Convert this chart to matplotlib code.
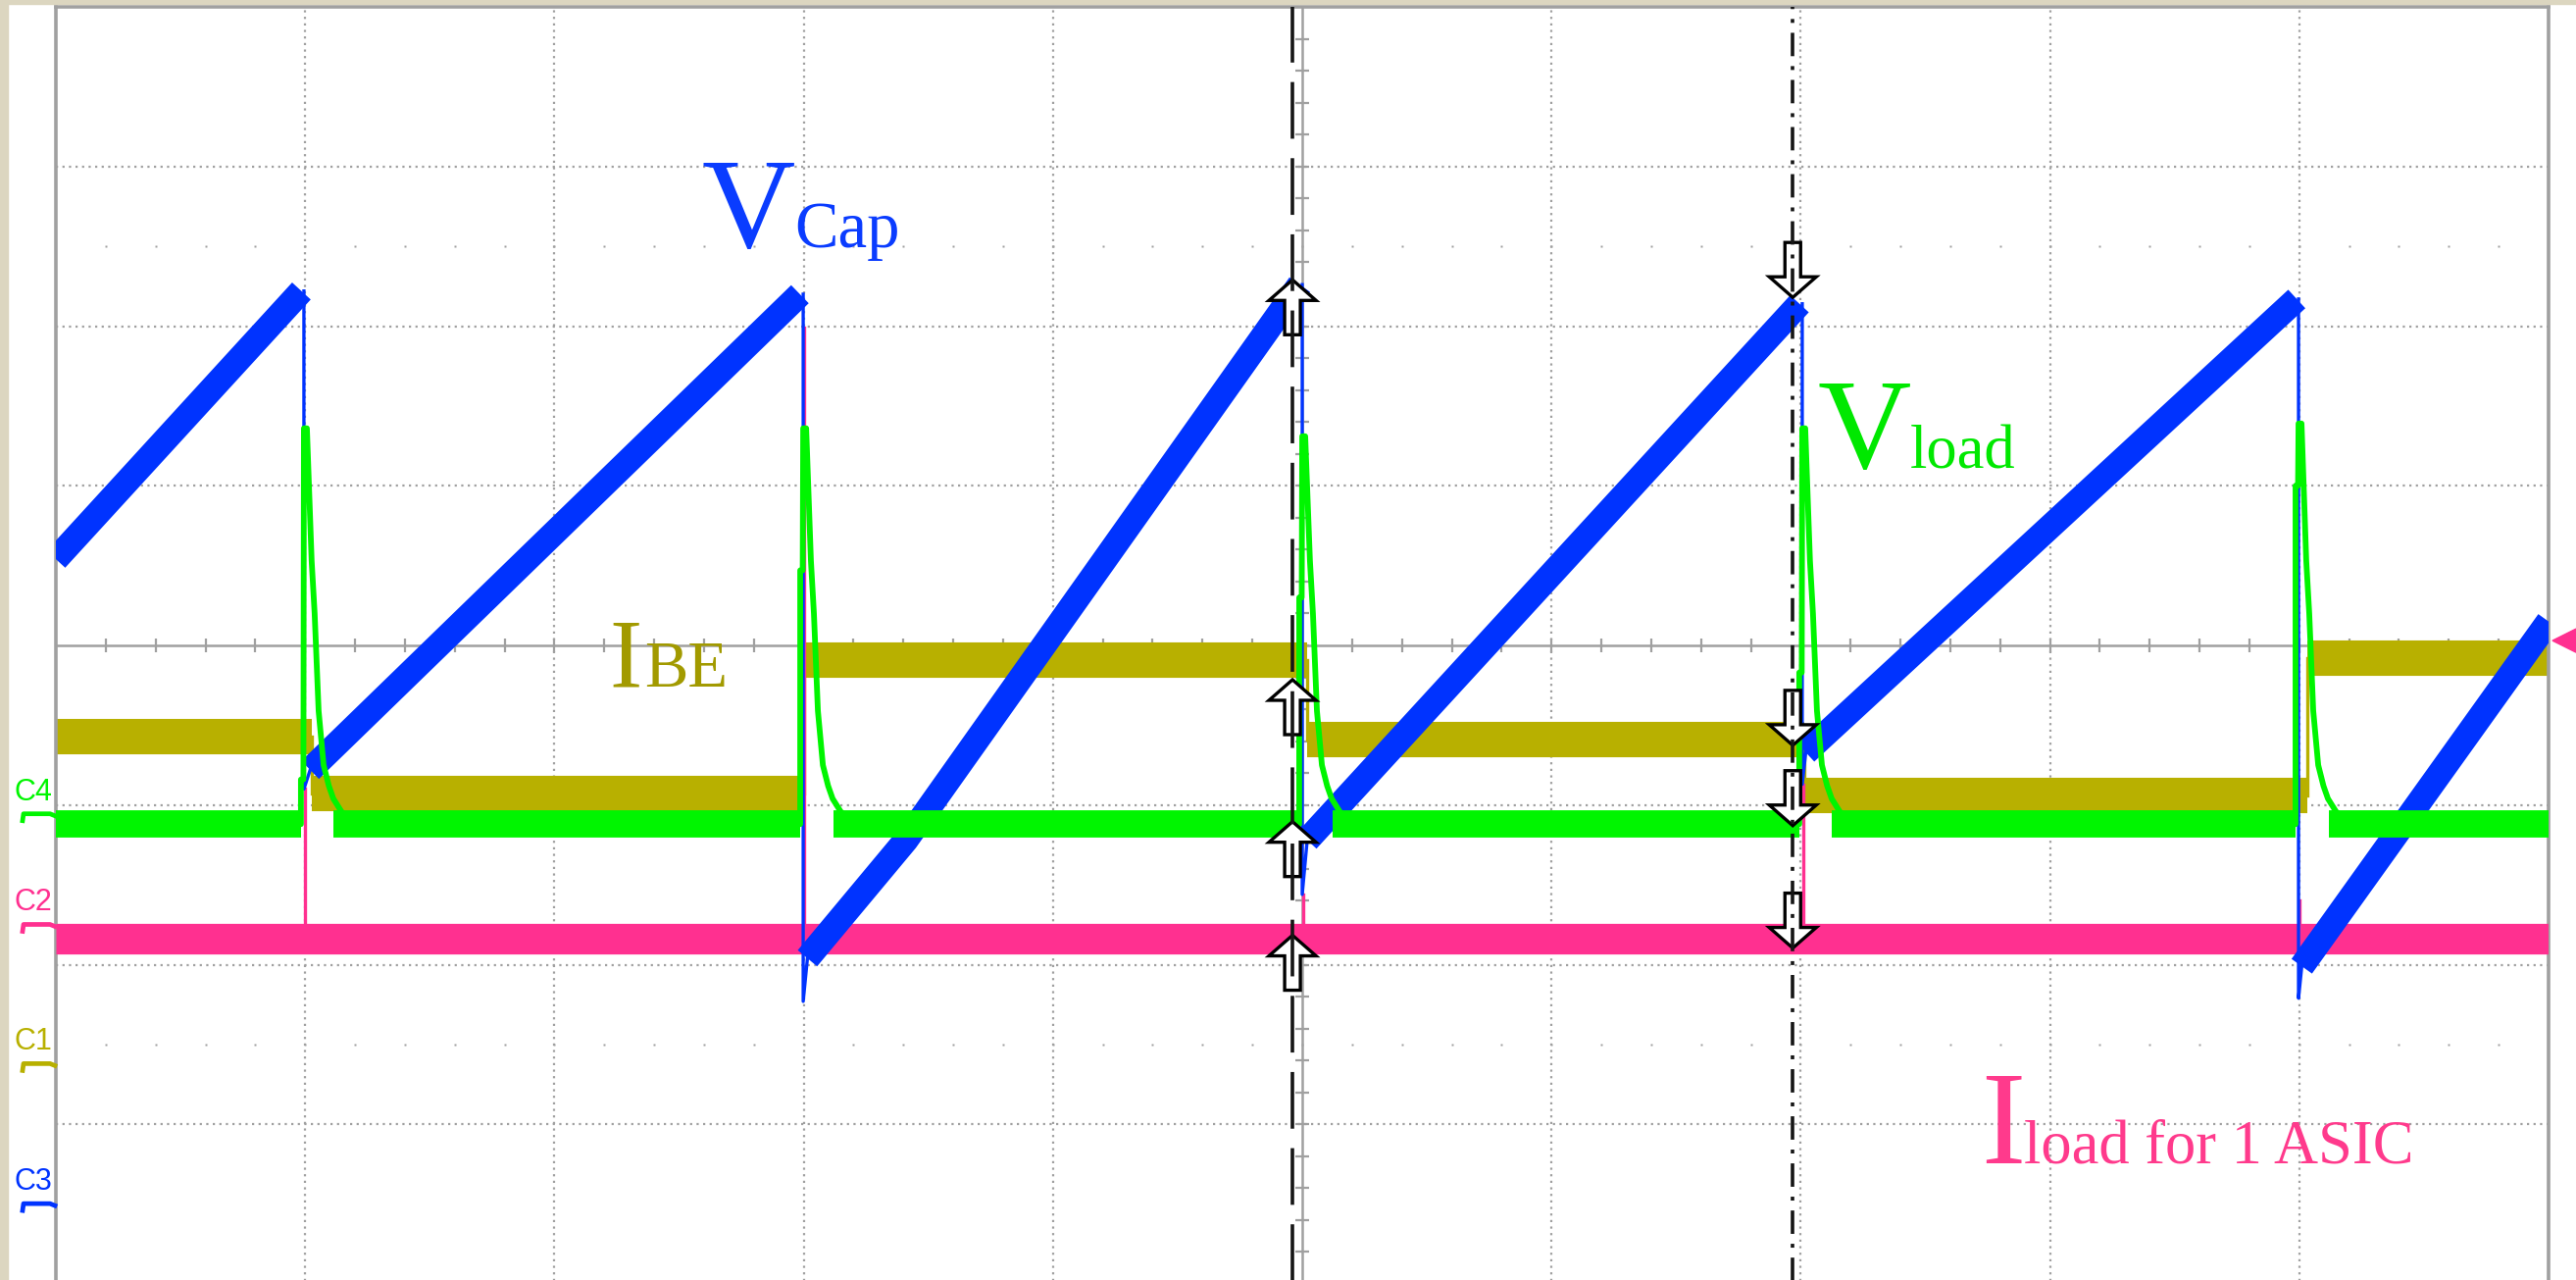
import numpy as np
import matplotlib
matplotlib.use("Agg")
import matplotlib.pyplot as plt
import matplotlib.transforms as mtrans
from matplotlib.patches import Polygon, Rectangle
from matplotlib.lines import Line2D

# scope screen: 10 x 8 divisions, centre of screen at (5, 0)

# C3 - capacitor voltage, one ramp per charge cycle (t in div, v in div)
cap_ramp_t = [[0.0, 0.985], [1.02, 2.985], [3.015, 3.41, 4.99],
              [5.02, 6.995], [7.02, 8.99], [9.01, 10.0]]
cap_ramp_v = [[0.54, 2.22], [-0.78, 2.20], [-1.96, -1.22, 2.26],
              [-1.22, 2.14], [-0.67, 2.17], [-2.01, 0.15]]
# discharge instants and the lowest point reached by C3
dis_t = [0.995, 2.998, 5.0, 7.006, 8.997]
cap_drop_lo = [-0.90, -2.23, -1.56, -0.87, -2.21]

# C4 - load voltage: flat level plus a spike at every discharge
load_base = -1.12
load_pre = [-0.84, 0.47, 0.30, -0.17, 1.00]
load_peak = [1.36, 1.36, 1.31, 1.36, 1.39]
decay_dt = [0.031, 0.043, 0.059, 0.079, 0.100, 0.118, 0.150, 0.181, 0.21]
decay_v = [0.53, 0.20, -0.41, -0.75, -0.88, -0.96, -1.04, -1.09, -1.12]

# C1 - base-emitter current, three levels
ibe_edges = [0.0, 1.027, 3.002, 5.02, 7.014, 9.032, 10.0]
ibe_level = [-0.57, -0.93, -0.09, -0.59, -0.94, -0.08]

# C2 - load current
iload_base = -1.84
iload_spike = [-0.90, 1.99, -1.56, -0.87, -1.60]

# cursors and their readout marks
cursor_t = [4.961, 6.968]
cur1_marks = [2.29, -0.215, -1.104, -1.816]
cur2_marks = [2.18, -0.626, -1.129, -1.896]

# channel offset markers on the left, trigger level on the right
ch_names = ["C4", "C2", "C1", "C3"]
ch_offset = [-1.055, -1.748, -2.62, -3.497]
trig_level = 0.03

BLUE = "#0033FF"
GREEN = "#00F500"
OLIVE = "#B8B000"
PINK = "#FF3090"

W, H = 2627, 1305
PX = 10 / 2542.0   # div per pixel, x
PY = 8 / 1302.0    # div per pixel, y

fig = plt.figure(figsize=(W / 100, H / 100), dpi=100, facecolor="white")
fig.patches.append(Rectangle((0, 0), 8 / W, 1, transform=fig.transFigure,
                             color="#DCD6C0", zorder=0))
fig.patches.append(Rectangle((0, 1 - 4 / H), 1, 4 / H, transform=fig.transFigure,
                             color="#DCD6C0", zorder=0))

ax = fig.add_axes([57 / W, (H - 1309) / H, 2542 / W, 1302 / H])
ax.set_xlim(0, 10)
ax.set_ylim(-4, 4)
ax.set_xticks([])
ax.set_yticks([])
for s in ax.spines.values():
    s.set_color("#A0A0A0")
    s.set_linewidth(2.6)

# graticule
grid_kw = dict(color="#A0A0A0", lw=1.6, ls=(0, (1, 2.0)), zorder=1)
for gx in range(1, 10):
    if gx != 5:
        ax.axvline(gx, **grid_kw)
for gy in range(-3, 4):
    if gy != 0:
        ax.axhline(gy, **grid_kw)
ax.axhline(0, color="#A0A0A0", lw=1.8, zorder=1)
ax.axvline(5, color="#A0A0A0", lw=1.8, zorder=1)
fifths_x = np.arange(1, 50) / 5
fifths_y = np.arange(-19, 20) / 5
ax.vlines(fifths_x, -7 * PY, 7 * PY, color="#A0A0A0", lw=1.6, zorder=1)
ax.hlines(fifths_y, 5 - 7 * PX, 5 + 7 * PX, color="#A0A0A0", lw=1.6, zorder=1)
for row in (2.5, -2.5):
    ax.plot(fifths_x, [row] * len(fifths_x), "s", ms=1.7, color="#A0A0A0",
            mec="none", zorder=1)

# C1 olive
for k in range(len(ibe_level)):
    ax.plot([ibe_edges[k], ibe_edges[k + 1]], [ibe_level[k]] * 2, color=OLIVE,
            lw=26, solid_capstyle="butt", zorder=2)
    if k > 0:
        ax.plot([ibe_edges[k]] * 2, [ibe_level[k - 1], ibe_level[k]], color=OLIVE,
                lw=2.4, zorder=2)

# C2 pink
ax.plot([0, 10], [iload_base] * 2, color=PINK, lw=22.5, solid_capstyle="butt", zorder=3)
for d, top in zip(dis_t, iload_spike):
    ax.plot([d + 0.004] * 2, [iload_base, top], color=PINK, lw=2.4, zorder=3)

# C3 blue
for t, v in zip(cap_ramp_t, cap_ramp_v):
    ax.plot(t, v, color=BLUE, lw=18.5, solid_capstyle="butt", zorder=4)
for k, d in enumerate(dis_t):
    ax.plot([d, d, cap_ramp_t[k + 1][0]],
            [cap_ramp_v[k][-1], cap_drop_lo[k], cap_ramp_v[k + 1][0]],
            color=BLUE, lw=2.4, zorder=4)

# C4 green
starts = [0.0] + [d + 0.12 for d in dis_t]
ends = [d - 0.012 for d in dis_t] + [10.0]
for a, b in zip(starts, ends):
    ax.plot([a, b], [load_base] * 2, color=GREEN, lw=20, solid_capstyle="butt", zorder=5)
for d, pre, pk in zip(dis_t, load_pre, load_peak):
    t = [d - 0.02, d - 0.012, d - 0.012, d - 0.002, d, d + 0.012] + [d + x for x in decay_dt]
    v = [load_base, load_base, pre, pre, pk, pk] + decay_v
    ax.plot(t, v, color=GREEN, lw=4.2, solid_joinstyle="round", zorder=5)

# cursors with readout arrows
def arrow(x, tip, up):
    s = 1 if up else -1
    pts = [(0, 0), (24, -21), (8, -21), (8, -56), (-8, -56), (-8, -21), (-24, -21)]
    xy = [(x + px * PX, tip + s * py * PY) for px, py in pts]
    ax.add_patch(Polygon(xy, closed=True, fc="white", ec="black", lw=2.4, zorder=7))

for m in cur1_marks:
    arrow(cursor_t[0], m, True)
for m in cur2_marks:
    arrow(cursor_t[1], m, False)
ax.axvline(cursor_t[0], color="#151515", lw=2.6, ls=(0, (16, 5.5)), zorder=8)
ax.axvline(cursor_t[1], color="#151515", lw=2.6, ls=(0, (6.6, 2.8, 1.1, 2.8)), zorder=8)

# trace names
serif = "Liberation Serif"
def label(x_main, x_sub, y, main, sub, color, big, small):
    ax.text(x_main, y, main, fontsize=big, family=serif, color=color, va="baseline", zorder=9)
    ax.text(x_sub, y, sub, fontsize=small, family=serif, color=color, va="baseline", zorder=9)

label(2.590, 2.962, 2.495, "V", "Cap", "#0A3CFF", 95, 48)
label(7.066, 7.439, 1.112, "V", "load", "#00E800", 95, 45)
label(2.222, 2.360, -0.258, "I", "BE", "#A29A00", 72, 48)
label(7.724, 7.895, -3.244, "I", "load for 1 ASIC", "#FF3A8C", 98, 45)

# channel markers in the left margin
blend = mtrans.blended_transform_factory(fig.transFigure, ax.transData)
ch_colors = [GREEN, PINK, OLIVE, BLUE]
for name, off, c in zip(ch_names, ch_offset, ch_colors):
    fig.text(14 / W, off + 22 * PY, name, transform=blend, color=c, fontsize=22,
             family="Liberation Sans", va="center", ha="left")
    fig.lines.append(Line2D([23 / W, 24 / W, 51 / W, 56 / W],
                            [off - 7 * PY, off, off, off - 2 * PY],
                            transform=blend, color=c, lw=3.4))

# trigger level marker on the right
tp = ax.transData.transform((10, trig_level))[1] / H
fig.patches.append(Polygon([(2603 / W, tp), (1.0, tp + 12 / H), (1.0, tp - 12 / H)],
                           closed=True, transform=fig.transFigure, color=PINK))

fig.savefig("out.png", dpi=100, facecolor="white")
